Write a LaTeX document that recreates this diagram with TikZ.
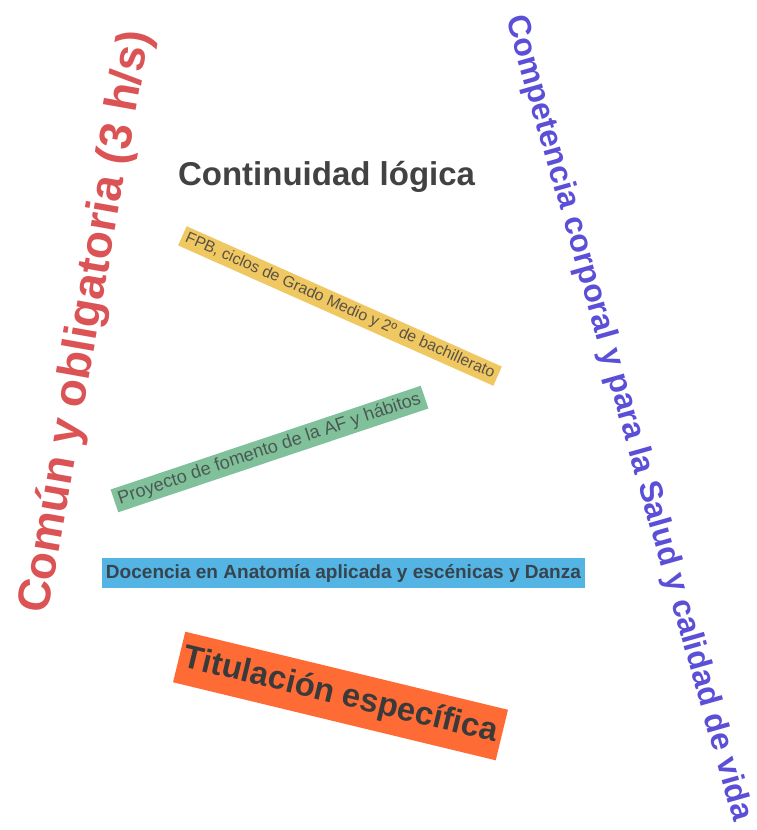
\documentclass[tikz,border=0pt]{standalone}
\usepackage{fontspec}
\setmainfont{Liberation Sans}
\usepackage{graphicx}
\definecolor{redt}{HTML}{DB5354}
\definecolor{purp}{HTML}{5B4FD8}
\definecolor{dgray}{HTML}{424242}
\definecolor{yel}{HTML}{F0C862}
\definecolor{grn}{HTML}{80C09A}
\definecolor{blu}{HTML}{54B4E4}
\definecolor{org}{HTML}{FF6B35}
\definecolor{ytext}{HTML}{5A5246}
\definecolor{gtext}{HTML}{4A5A52}
\definecolor{btext}{HTML}{37444D}
\definecolor{otext}{HTML}{3A3A3A}
\begin{document}
\begin{tikzpicture}[x=1pt,y=-1pt,
  band/.style={inner sep=0pt, outer sep=0pt, anchor=center},
  bigtext/.style={inner sep=0pt, outer sep=0pt, font=\bfseries}]
\useasboundingbox (0,0) rectangle (757,830);
\fill[white] (0,0) rectangle (757,830);

\node[bigtext, rotate=80, text=redt] (comun) at (87,322)
  {\resizebox{590pt}{!}{Común y obligatoria (3 h/s)}};

\node[bigtext, rotate=-74.2, text=purp] (comp) at (628,418)
  {\resizebox{836pt}{!}{Competencia corporal y para la Salud y calidad de vida}};

\node[bigtext, text=dgray, anchor=base west] (cont) at (178,185)
  {\resizebox{297pt}{!}{Continuidad lógica}};

\node[band, fill=yel, rotate=-24, minimum width=345pt, minimum height=21pt, text=ytext] (fpb) at (340,306)
  {\resizebox{337pt}{!}{FPB, ciclos de Grado Medio y 2º de bachillerato}};

\node[band, fill=grn, rotate=18.5, minimum width=327pt, minimum height=24pt, text=gtext] (proy) at (269.5,449)
  {\resizebox{318pt}{!}{Proyecto de fomento de la AF y hábitos}};

\node[band, fill=blu, minimum width=483pt, minimum height=30pt, text=btext] (doc) at (343.5,573)
  {\resizebox{475pt}{!}{\bfseries Docencia en Anatomía aplicada y escénicas y Danza}};

\node[band, fill=org, rotate=-13.6, minimum width=332pt, minimum height=52pt, text=otext] (tit) at (340.5,696)
  {\resizebox{322pt}{!}{\bfseries Titulación específica}};
\end{tikzpicture}
\end{document}
